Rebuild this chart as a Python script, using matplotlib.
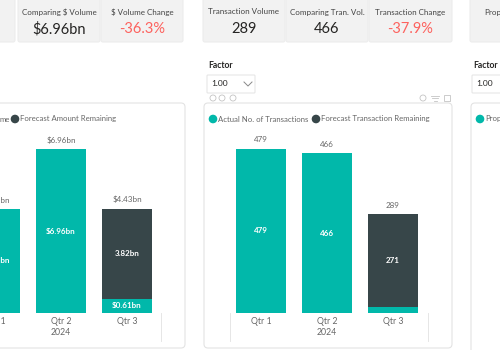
import matplotlib
matplotlib.use("Agg")
import matplotlib.pyplot as plt
from matplotlib.patches import FancyBboxPatch, Rectangle, Circle
import numpy as np

plt.rcParams['font.family'] = ['Lato', 'DejaVu Sans']

# ---------- data ----------
quarters = ["Qtr 1", "Qtr 2", "Qtr 3"]
year = "2024"
amount_actual = [4.42, 6.96, 0.61]
amount_forecast = [0.0, 0.0, 3.82]
tx_actual = [479, 466, 18]
tx_forecast = [0, 0, 271]

kpi_titles = ["Comparing $ Volume", "$ Volume Change",
              "Transaction Volume", "Comparing Tran. Vol.", "Transaction Change"]
kpi_values = ["$6.96bn", "-36.3%", "289", "466", "-37.9%"]
kpi_negative = [False, True, False, False, True]

TEAL = "#01B8AA"
DARK = "#374649"
RED = "#FD625E"
GREY = "#666666"
TXT = "#252423"
ICON = "#c4c4c4"

W, H = 500, 350
fig = plt.figure(figsize=(5, 3.5), dpi=100)
fig.patch.set_facecolor("white")

# overlay in pixel coordinates for the dashboard furniture
ov = fig.add_axes([0, 0, 1, 1], zorder=0)
ov.set_xlim(0, W)
ov.set_ylim(H, 0)
ov.axis("off")


def card(x0, y0, x1, y1, fc="white", ec="#e3e3e3", r=4):
    ov.add_patch(FancyBboxPatch((x0, y0), x1 - x0, y1 - y0,
                                boxstyle=f"round,pad=0,rounding_size={r}",
                                fc=fc, ec=ec, lw=0.8))


# ---------- KPI cards ----------
card(-10, -5, 15, 42, fc="#f2f2f2", ec="#ececec", r=2)
kpi_boxes = [(18, 100), (101, 183), (203, 285), (286, 368), (369, 452)]
for (x0, x1), t, v, neg in zip(kpi_boxes, kpi_titles, kpi_values, kpi_negative):
    card(x0, -5, x1, 42, fc="#f2f2f2", ec="#ececec", r=2)
    cx = (x0 + x1) / 2
    ov.text(cx, 12, t, ha="center", va="center", fontsize=5.8, color="#444444")
    ov.text(cx, 29, v, ha="center", va="center", fontsize=10.5,
            color=RED if neg else TXT)
card(470, -5, 520, 42, fc="#f2f2f2", ec="#ececec", r=2)
ov.text(484, 12, "Prop", ha="left", va="center", fontsize=5.8, color="#444444")

# ---------- Factor slicers ----------
for fx in (207, 472):
    ov.text(fx + 1, 65, "Factor", ha="left", va="center", fontsize=6.2,
            fontweight="bold", color=TXT)
    card(fx, 75, fx + 48, 93, ec="#e6e6e6", r=1)
    ov.text(fx + 4, 84, "1.00", ha="left", va="center", fontsize=6, color=TXT)
    if fx + 48 < W:
        ov.plot([fx + 37, fx + 41, fx + 45], [82, 86, 82], color="#888888", lw=0.7)

# visual header icons
for ix in (213, 222, 233, 423):
    ov.add_patch(Circle((ix, 98), 3.0, fc="none", ec=ICON, lw=0.6))
for dy, hw in ((-2.5, 4), (0, 3), (2.5, 1.5)):
    ov.plot([435 - hw, 435 + hw], [98 + dy, 98 + dy], color=ICON, lw=0.6)
ov.add_patch(Rectangle((444, 95), 6, 6, fc="none", ec=ICON, lw=0.6))

# ---------- chart cards ----------
card(-20, 103, 185, 348)
card(204, 103, 452, 348)
card(471, 103, 530, 360)

# legends
ov.text(10, 119, "me", ha="right", va="center", fontsize=5.6, color=GREY)
ov.add_patch(Circle((15, 119), 3.6, color=DARK))
ov.text(20, 119, "Forecast Amount Remaining", ha="left", va="center", fontsize=5.6, color=GREY)

ov.add_patch(Circle((213, 119), 3.6, color=TEAL))
ov.text(218.5, 119, "Actual No. of Transactions", ha="left", va="center", fontsize=5.6, color=GREY)
ov.add_patch(Circle((316, 119), 3.6, color=DARK))
ov.text(321, 119, "Forecast Transaction Remaining", ha="left", va="center", fontsize=5.6, color=GREY)

ov.add_patch(Circle((480, 119), 3.6, color=TEAL))
ov.text(485, 119, "Prop", ha="left", va="center", fontsize=5.6, color=GREY)

# axis divider lines
for lx in (161, 230, 428):
    ov.plot([lx, lx], [313, 341], color="#e6e6e6", lw=0.7)


# ---------- bar charts ----------
def bar_axes(center0, base_y, unit_px, ymax):
    left = center0 - 33
    height = ymax * unit_px
    ax = fig.add_axes([left / W, 1 - base_y / H, 198 / W, height / H], zorder=1)
    ax.set_facecolor("none")
    ax.set_xlim(-0.5, 2.5)
    ax.set_ylim(0, ymax)
    for s in ax.spines.values():
        s.set_visible(False)
    ax.set_yticks([])
    return ax


x = np.arange(len(quarters))
bw = 50 / 66

# amount chart
ax1 = bar_axes(-5, 313, 164 / 6.96, 7.9)
ax1.bar(x, amount_actual, bw, color=TEAL, lw=0)
ax1.bar(x, amount_forecast, bw, bottom=amount_actual, color=DARK, lw=0)
for i in x:
    a, f = amount_actual[i], amount_forecast[i]
    tot = a + f
    ax1.annotate(f"${tot:.2f}bn", (i, tot), xytext=(0, 6.5), textcoords="offset points",
                 ha="center", va="center", fontsize=5.8, color=GREY)
    ax1.text(i, a / 2, f"${a:.2f}bn", ha="center", va="center", fontsize=5.8,
             fontweight="bold", color="white")
    if f > 0:
        ax1.text(i, a + f / 2, f"{f:.2f}bn", ha="center", va="center", fontsize=5.8,
                 fontweight="bold", color="white")
ax1.set_xticks(x, quarters)
ax1.tick_params(axis="x", length=0, pad=3, labelsize=6.3, labelcolor=GREY)
ax1.annotate(year, (1, 0), xycoords=("data", "axes fraction"), xytext=(0, -14),
             textcoords="offset points", ha="center", va="center", fontsize=6.3, color=GREY)

# transactions chart
ax2 = bar_axes(261, 313, 164 / 479, 540)
ax2.bar(x, tx_actual, bw, color=TEAL, lw=0)
ax2.bar(x, tx_forecast, bw, bottom=tx_actual, color=DARK, lw=0)
for i in x:
    a, f = tx_actual[i], tx_forecast[i]
    tot = a + f
    ax2.annotate(f"{tot}", (i, tot), xytext=(0, 6.5), textcoords="offset points",
                 ha="center", va="center", fontsize=5.8, color=GREY)
    if a > 50:
        ax2.text(i, a / 2, f"{a}", ha="center", va="center", fontsize=5.8,
                 fontweight="bold", color="white")
    if f > 0:
        ax2.text(i, a + f / 2, f"{f}", ha="center", va="center", fontsize=5.8,
                 fontweight="bold", color="white")
ax2.set_xticks(x, quarters)
ax2.tick_params(axis="x", length=0, pad=3, labelsize=6.3, labelcolor=GREY)
ax2.annotate(year, (1, 0), xycoords=("data", "axes fraction"), xytext=(0, -14),
             textcoords="offset points", ha="center", va="center", fontsize=6.3, color=GREY)

fig.savefig("out.png", dpi=100)
